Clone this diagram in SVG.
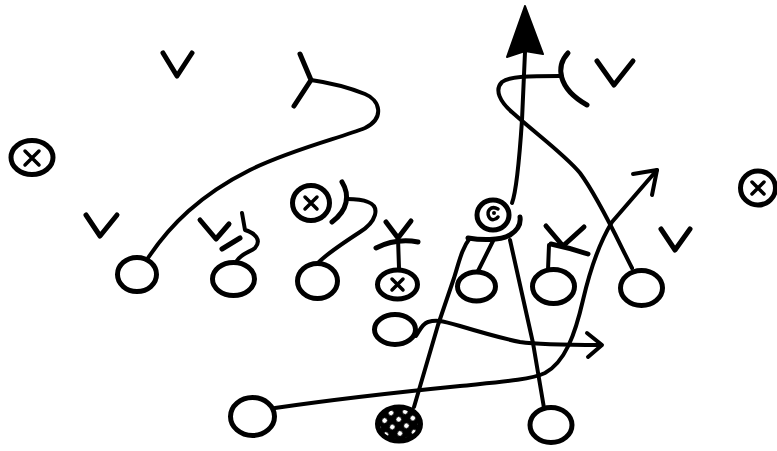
<svg xmlns="http://www.w3.org/2000/svg" width="777" height="451" viewBox="0 0 777 451">
<style>
.p{fill:none;stroke:#000;stroke-width:5}
.d{fill:none;stroke:#000;stroke-width:5}
.x{fill:none;stroke:#000;stroke-width:3.5;stroke-linecap:round}
.v{fill:none;stroke:#000;stroke-width:5;stroke-linecap:round;stroke-linejoin:round}
.r{fill:none;stroke:#000;stroke-width:4;stroke-linecap:round;stroke-linejoin:round}
.m{fill:none;stroke:#000;stroke-width:5;stroke-linecap:round;stroke-linejoin:round}
</style>
<defs>
<pattern id="dots" patternUnits="userSpaceOnUse" width="10" height="10" patternTransform="rotate(40)">
<rect width="10" height="10" fill="#000"/>
<circle cx="5" cy="5" r="2.4" fill="#fff"/>
</pattern>
</defs>
<rect width="777" height="451" fill="#fff"/>

<g id="connectors">
<path class="r" d="M148,258 C170,225 200,195 250,170 C290,150 340,138 365,128 C385,118 380,100 365,94 C345,86 325,82 311,80"/>
<path class="m" d="M300,54 L311,80 L294,106"/>
<path class="r" d="M242,213 L245,230 C255,233 262,240 255,248 C250,252 240,254 236,262"/>
<path class="m" d="M222,249 L240,238"/>
<path class="r" d="M317,264 C325,255 340,245 360,232 C376,222 381,207 368,202 C361,199 353,199 347,199"/>
<path class="m" d="M342,182 C350,195 348,210 332,222"/>
<path class="m" d="M376,248 Q396,238 418,242"/>
<path class="r" d="M398,238 L399,268"/>
<path class="m" d="M468,238 C480,240 500,241 510,235 C518,230 521,224 520,217"/>
<path class="r" d="M414,407 L438,325 L454,278 C459,262 462,248 470,238"/>
<path class="r" d="M478,271 L493,241"/>
<path class="r" d="M544,408 L533,343 L510,240"/>
<path class="r" d="M512,203 C517,190 520,150 522,120 L525,52"/>
<path d="M525,6 L507,57 L525,51 L543,54 Z" fill="#000" stroke="#000" stroke-width="2" stroke-linejoin="round"/>
<path class="r" d="M632,268 C620,245 600,200 580,173 C565,155 540,137 513,113 C500,102 494,90 502,82 C510,76 530,76 560,76"/>
<path class="m" d="M568,53 C556,66 557,88 587,105"/>
<path class="r" d="M275,408 C330,400 400,392 460,386 C500,382 530,380 545,373 C565,362 575,335 583,300 C590,270 598,245 612,222 L657,170"/>
<path class="r" d="M633,174 L657,170 L652,195"/>
<path class="r" d="M416,336 C420,330 422,324 428,322 C435,320 440,320 460,326 C480,332 500,338 520,342 C540,345 570,345 600,345"/>
<path class="r" d="M587,333 L602,345 L588,357"/>
<path class="r" d="M549,245 L548,270"/>
<path class="m" d="M551,244 Q570,248 588,254"/>
</g>

<g id="def-v-top"><path class="v" d="M163,53 L177,76 L192,53"/></g>
<g id="def-v-left"><path class="v" d="M86,215 L100,236 L117,215"/></g>
<g id="def-v-o2"><path class="v" d="M200,220 L216,239 L229,224"/></g>
<g id="def-y-center"><path class="v" d="M386,222 L398,238 L411,221"/></g>
<g id="def-y-o6"><path class="v" d="M546,226 L563,246 L584,227"/></g>
<g id="def-v-topright"><path class="v" d="M597,61 L614,85 L633,61"/></g>
<g id="def-v-right"><path class="v" d="M661,229 L675,250 L690,229"/></g>

<g id="def-x-left"><ellipse class="d" cx="32" cy="157.5" rx="21" ry="17"/><path class="x" d="M25,151 L39,165 M39,151 L25,165"/></g>
<g id="def-x-mid"><ellipse class="d" cx="311" cy="203" rx="18.5" ry="17.5"/><path class="x" d="M305,197 L317,209 M317,197 L305,209"/></g>
<g id="def-x-center"><ellipse class="d" cx="397.5" cy="284.5" rx="20" ry="14.5"/><path class="x" d="M392,279 L403,290 M403,279 L392,290"/></g>
<g id="def-x-topright"><ellipse class="d" cx="493" cy="215" rx="16" ry="15"/><path class="x" d="M498,209 C491,205 486,211 489,217 C491,221 496,220 498,217"/><circle cx="494" cy="213" r="2" fill="#000"/></g>
<g id="def-x-right"><ellipse class="d" cx="758" cy="188" rx="17.5" ry="17"/><path class="x" d="M752,182 L764,194 M764,182 L752,194"/></g>

<g id="o1"><ellipse class="p" cx="137" cy="274.5" rx="19.5" ry="17"/></g>
<g id="o2"><ellipse class="p" cx="233.5" cy="279" rx="21" ry="16.5"/></g>
<g id="o3"><ellipse class="p" cx="317.5" cy="281" rx="20" ry="17.5"/></g>
<g id="o4"><ellipse class="p" cx="395" cy="329.5" rx="20.5" ry="15"/></g>
<g id="o5"><ellipse class="p" cx="476.5" cy="286.5" rx="19" ry="14.5"/></g>
<g id="o6"><ellipse class="p" cx="553.5" cy="286.5" rx="21" ry="17"/></g>
<g id="o7"><ellipse class="p" cx="641.5" cy="288" rx="21" ry="17.5"/></g>
<g id="o8"><ellipse class="p" cx="551" cy="425" rx="21" ry="17.5"/></g>
<g id="o9"><ellipse class="p" cx="252.5" cy="416.5" rx="22" ry="19"/></g>
<g id="qb"><ellipse cx="399" cy="424" rx="21.5" ry="17" fill="url(#dots)" stroke="#000" stroke-width="5"/></g>
</svg>
